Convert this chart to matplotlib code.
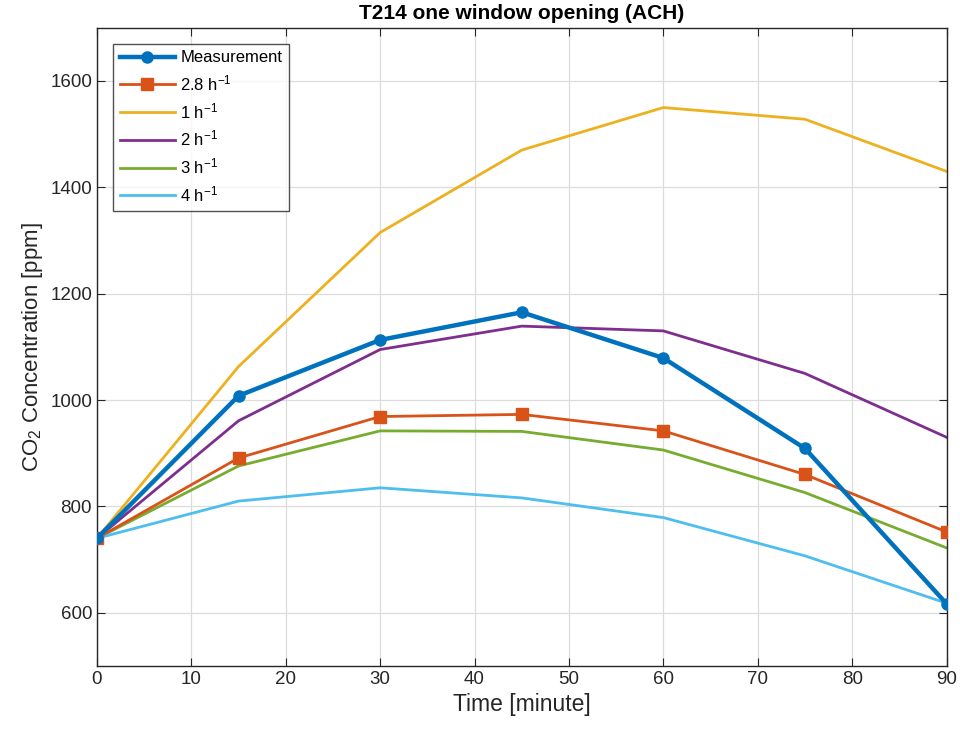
import matplotlib
matplotlib.use('Agg')
import matplotlib.pyplot as plt

# CO2 readings, T214 one window opening
time_min = [0, 15, 30, 45, 60, 75, 90]
measurement = [740, 1008, 1113, 1165, 1079, 909, 617]
ach_2p8 = [740, 891, 969, 973, 942, 860, 752]
ach_1 = [740, 1063, 1315, 1470, 1550, 1528, 1430]
ach_2 = [740, 961, 1095, 1139, 1130, 1050, 930]
ach_3 = [740, 876, 942, 941, 906, 826, 722]
ach_4 = [740, 810, 835, 816, 779, 707, 618]

labels = ['Measurement', '2.8 h$^{-1}$', '1 h$^{-1}$', '2 h$^{-1}$', '3 h$^{-1}$', '4 h$^{-1}$']
colors = ['#0072bd', '#d95319', '#edb120', '#7e2f8e', '#77ac30', '#4dbeee']

plt.rcParams['font.family'] = ['Liberation Sans', 'DejaVu Sans']
plt.rcParams['mathtext.fontset'] = 'custom'
plt.rcParams['mathtext.rm'] = 'Liberation Sans'
plt.rcParams['mathtext.it'] = 'Liberation Sans'

fig = plt.figure(figsize=(9.6, 7.31), dpi=100)
ax = fig.add_axes([0.101, 0.089, 0.885, 0.873])

ax.plot(time_min, measurement, color=colors[0], lw=3.2, marker='o', ms=8, label=labels[0], zorder=5)
ax.plot(time_min, ach_2p8, color=colors[1], lw=2, marker='s', ms=8, label=labels[1], zorder=4)
ax.plot(time_min, ach_1, color=colors[2], lw=2, label=labels[2])
ax.plot(time_min, ach_2, color=colors[3], lw=2, label=labels[3])
ax.plot(time_min, ach_3, color=colors[4], lw=2, label=labels[4])
ax.plot(time_min, ach_4, color=colors[5], lw=2, label=labels[5])

ax.set_xlim(0, 90)
ax.set_ylim(500, 1700)
ax.set_xticks(range(0, 91, 10))
ax.set_yticks(range(600, 1601, 200))
ax.grid(True, color='#dcdcdc', lw=0.9)
ax.set_axisbelow(True)
for s in ax.spines.values():
    s.set_color('#262626')
    s.set_linewidth(1)
ax.tick_params(direction='in', top=True, right=True, labelsize=13.5, colors='#262626', length=6)

ax.set_xlabel('Time [minute]', fontsize=16.5, color='#262626')
ax.set_ylabel('CO$_2$ Concentration [ppm]', fontsize=16, color='#262626')
ax.set_title('T214 one window opening (ACH)', fontsize=15, fontweight='bold',
             family=['Liberation Sans Narrow', 'Liberation Sans'], pad=6)

leg = ax.legend(loc='upper left', fontsize=12, frameon=True, fancybox=False,
                edgecolor='#262626', borderaxespad=0.96, handlelength=3.3,
                labelspacing=0.47, handletextpad=0.35)
leg.get_frame().set_linewidth(1)

fig.savefig('out.png', dpi=100)
